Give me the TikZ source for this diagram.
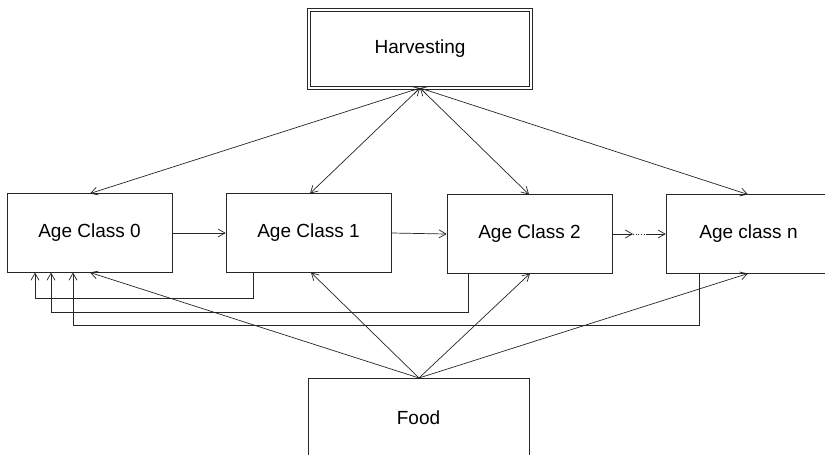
\documentclass[tikz,border=0pt]{standalone}
\usepackage{fontspec}
\setmainfont{Liberation Sans}
\usetikzlibrary{arrows.meta}
\begin{document}
\begin{tikzpicture}[x=1pt,y=-1pt,
  ln/.style={draw=black!85, line width=0.7pt},
  arr/.style={ln, -{Straight Barb[length=7pt,width=8pt]}},
  barr/.style={ln, {Straight Barb[length=7pt,width=8pt]}-{Straight Barb[length=7pt,width=8pt]}},
  box/.style={ln, rectangle, inner sep=0pt, font=\fontsize{19}{22}\selectfont}]
\useasboundingbox (0,0) rectangle (825,455);
\fill[white] (0,0) rectangle (825,455);
% boxes
\node[box, minimum width=222pt, minimum height=78pt, double, double distance=2pt] (harv) at (420,49) {Harvesting};
\node[box, minimum width=165pt, minimum height=79pt] (a0) at (89.5,233) {Age Class 0};
\node[box, minimum width=165pt, minimum height=79pt] (a1) at (308.5,233) {Age Class 1};
\node[box, minimum width=165pt, minimum height=79pt] (a2) at (529.5,234) {Age Class 2};
\node[box, minimum width=180pt, minimum height=79pt] (an) at (756,234) {Age class n\hspace*{15pt}};
\node[box, minimum width=221pt, minimum height=80pt] (food) at (418.5,418) {Food};
% anchor coordinates
\coordinate (ht) at (420,88);
\coordinate (ft) at (419,378);
\coordinate (t0) at (90,193.5);
\coordinate (t1) at (310,193.5);
\coordinate (t2) at (529,194.5);
\coordinate (tn) at (748,194.5);
\coordinate (b0) at (90,272.5);
\coordinate (b1) at (311,272.5);
\coordinate (b2) at (530,273.5);
\coordinate (bn) at (748,273.5);
% harvesting links
\draw[barr] (t0) -- (ht);
\draw[barr] (t1) -- (ht);
\draw[barr] (t2) -- (ht);
\draw[barr] (tn) -- (ht);
% food links
\draw[arr] (ft) -- (b0);
\draw[arr] (ft) -- (b1);
\draw[arr] (ft) -- (b2);
\draw[arr] (ft) -- (bn);
% age transitions
\draw[arr] (a0.east) -- (a1.west);
\draw[arr] (a1.east) -- (a2.west);
\coordinate (m1) at (633,234);
\coordinate (m2) at (646,234);
\draw[arr] (a2.east) -- (m1);
\draw[ln, dotted] (m1) -- (m2);
\draw[arr] (m2) -- (an.west);
% feedback loops
\coordinate (f1) at (253,272.5);
\coordinate (f2) at (468,273.5);
\coordinate (f3) at (699,273.5);
\coordinate (e1) at (35,272.5);
\coordinate (e2) at (51,272.5);
\coordinate (e3) at (73,272.5);
\draw[arr] (f1) -- (253,298) -- (35,298) -- (e1);
\draw[arr] (f2) -- (468,312) -- (51,312) -- (e2);
\draw[arr] (f3) -- (699,325) -- (73,325) -- (e3);
\end{tikzpicture}
\end{document}
